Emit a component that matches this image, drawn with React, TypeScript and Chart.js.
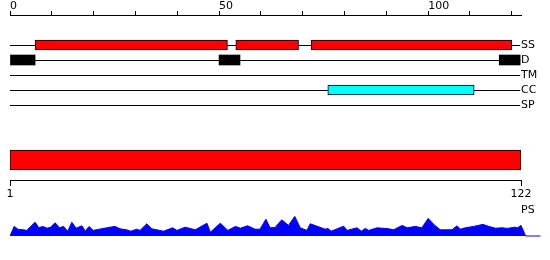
import React, { useEffect, useRef } from 'react';
import { Chart, registerables } from 'chart.js';

Chart.register(...registerables);

// ---------- data ----------
const proteinLength = 122;
const trackNames = ['SS', 'D', 'TM', 'CC', 'SP'];
const ssSegments: [number, number][] = [[6, 52], [54, 69], [72, 120]];
const disorderSegments: [number, number][] = [[0, 6], [50, 55], [117, 122]];
const tmSegments: [number, number][] = [];
const ccSegments: [number, number][] = [[76, 111]];
const spSegments: [number, number][] = [];
const psRange: [number, number] = [1, 122];
const profileLabel = 'PS';

const topTickValues = [0, 10, 20, 30, 40, 50, 60, 70, 80, 90, 100, 110, 120];
const topTickLabels = ['0', '', '', '', '', '50', '', '', '', '', '100', '', ''];
const bottomTickValues = [1, 122];
const bottomTickLabels = ['1', '122'];

const profilePos = [
  0, 1.0, 2.0, 3.2, 4.0, 6.0, 6.9, 7.8, 8.9, 9.7, 10.8, 11.8, 12.8, 13.8, 14.8, 15.8, 17.2, 18.0, 18.9, 19.9,
  23.1, 25.1, 26.3, 27.9, 28.9, 30.3, 31.1, 32.7, 33.9, 36.7, 38.9, 39.9, 41.9, 44.3, 47.1, 47.9, 50.3, 52.1,
  53.9, 55.1, 56.8, 58.6, 59.8, 61.2, 62.2, 63.4, 65.0, 66.6, 68.1, 69.4, 71.0, 71.8, 75.4, 76.0, 76.8, 79.8,
  80.6, 83.0, 84.0, 85.0, 85.8, 87.8, 90.6, 91.7, 93.8, 95.0, 96.9, 98.5, 100.0, 101.6, 102.9, 105.7, 106.9,
  107.7, 108.9, 110.9, 113.1, 114.5, 116.1, 117.7, 118.9, 120.7, 121.4, 122.2, 123.3, 126.9,
];
const profileVal = [
  0, 48, 33, 31, 28, 69, 41, 48, 39, 44, 66, 41, 48, 24, 69, 39, 51, 24, 48, 28,
  41, 48, 36, 31, 24, 34, 28, 61, 36, 24, 41, 28, 44, 31, 64, 19, 64, 28,
  48, 39, 51, 34, 34, 84, 41, 43, 81, 53, 98, 41, 28, 61, 34, 38, 24, 49,
  28, 41, 24, 38, 28, 41, 36, 31, 53, 41, 48, 41, 88, 53, 31, 31, 51,
  34, 41, 48, 58, 48, 39, 41, 38, 44, 41, 53, 0, 0,
];

// ---------- layout (page pixels on the y scale) ----------
const TRACK_Y0 = 45;
const TRACK_GAP = 15;
const PS_BAR_Y = 160;
const BOTTOM_AXIS_Y = 180;
const PS_LABEL_Y = 210;
const FONT = 'DejaVu Sans';
const X_MAX = 122.2; // axis extent on the main chart
const PROFILE_X_MAX = 126.9; // extent of the profile strip
const PROFILE_TOP = 200;
const PROFILE_H = 50;

const trackY = (i: number) => TRACK_Y0 + i * TRACK_GAP;

function segBars(segs: [number, number][], row: number, color: string, border: number) {
  return {
    type: 'bar' as const,
    indexAxis: 'y' as const,
    grouped: false,
    xAxisID: 'x',
    yAxisID: 'y',
    data: segs.map((s) => ({ x: s, y: trackY(row) })),
    backgroundColor: color,
    borderColor: '#000',
    borderWidth: border,
    borderSkipped: false,
    barThickness: 10,
    order: 1,
  };
}

const zeroPad = (s: any) => {
  s.paddingLeft = 0;
  s.paddingRight = 0;
  s.paddingTop = 0;
  s.paddingBottom = 0;
};

export default function App() {
  const ref = useRef<HTMLCanvasElement>(null);
  const ref2 = useRef<HTMLCanvasElement>(null);

  useEffect(() => {
    if (!ref.current || !ref2.current) return;
    const baselines = trackNames.map((_, i) => ({
      type: 'line' as const,
      xAxisID: 'x',
      yAxisID: 'y',
      data: [
        { x: 0, y: trackY(i) + 0.5 },
        { x: proteinLength, y: trackY(i) + 0.5 },
      ],
      borderColor: '#000',
      borderWidth: 1,
      pointRadius: 0,
      fill: false,
      order: 5,
    }));

    const rightTicks = [...trackNames.map((_, i) => trackY(i)), PS_LABEL_Y];
    const rightLabels = [...trackNames, profileLabel];

    const datasets: any[] = [
      segBars(ssSegments, 0, '#ff0000', 1),
      segBars(disorderSegments, 1, '#000000', 0),
      segBars(tmSegments, 2, '#000000', 0),
      segBars(ccSegments, 3, '#00ffff', 1),
      segBars(spSegments, 4, '#ffff00', 1),
      {
        type: 'bar',
        indexAxis: 'y',
        grouped: false,
        xAxisID: 'x2',
        yAxisID: 'y',
        data: [{ x: psRange, y: PS_BAR_Y }],
        backgroundColor: '#ff0000',
        borderColor: '#000',
        borderWidth: 1,
        borderSkipped: false,
        barThickness: 20,
        order: 1,
      },
      ...baselines,
    ];

    const chart = new Chart(ref.current, {
      type: 'bar',
      data: { datasets },
      options: {
        animation: false,
        responsive: false,
        events: [],
        layout: { padding: { left: 10, top: 0, right: 0, bottom: 0 }, autoPadding: false },
        plugins: { legend: { display: false }, tooltip: { enabled: false } },
        scales: {
          x: {
            type: 'linear',
            position: 'top',
            min: 0,
            max: X_MAX,
            offset: false,
            afterBuildTicks: (s: any) => {
              s.ticks = topTickValues.map((v) => ({ value: v }));
            },
            afterFit: (s: any) => {
              s.height = 15;
              zeroPad(s);
            },
            ticks: {
              callback: (_v: any, i: number) => topTickLabels[i],
              align: 'start',
              padding: -2,
              autoSkip: false,
              maxRotation: 0,
              color: '#000',
              font: { family: FONT, size: 11 },
            },
            grid: { drawOnChartArea: false, tickLength: 4, color: '#000', offset: false },
            border: { display: true, color: '#000', width: 1 },
          },
          x2: {
            type: 'linear',
            position: { y: BOTTOM_AXIS_Y },
            min: 1,
            max: 122,
            offset: false,
            afterBuildTicks: (s: any) => {
              s.ticks = bottomTickValues.map((v) => ({ value: v }));
            },
            afterFit: (s: any) => zeroPad(s),
            ticks: {
              callback: (_v: any, i: number) => bottomTickLabels[i],
              padding: 2.5,
              autoSkip: false,
              maxRotation: 0,
              color: '#000',
              font: { family: FONT, size: 11 },
            },
            grid: { drawOnChartArea: false, tickLength: 5, color: '#000', offset: false },
            border: { display: true, color: '#000', width: 1 },
          } as any,
          y: {
            type: 'linear',
            display: false,
            min: 15,
            max: 260,
            reverse: true,
            offset: false,
          },
          yr: {
            type: 'linear',
            position: 'right',
            min: 15,
            max: 260,
            reverse: true,
            offset: false,
            afterBuildTicks: (s: any) => {
              s.ticks = rightTicks.map((v) => ({ value: v }));
            },
            afterFit: (s: any) => {
              s.width = 29;
              zeroPad(s);
            },
            ticks: {
              callback: (_v: any, i: number) => rightLabels[i],
              padding: 0,
              autoSkip: false,
              color: '#000',
              font: { family: FONT, size: 11 },
            },
            grid: { display: false, drawTicks: false, tickLength: 0 },
            border: { display: false },
          },
        },
      } as any,
    });

    // profile strip: same px-per-residue as the main chart, but wider
    const pxPerUnit = (550 - 29 - 10) / X_MAX;
    const rightPad = 550 - 10 - PROFILE_X_MAX * pxPerUnit;
    const chart2 = new Chart(ref2.current, {
      type: 'line',
      data: {
        datasets: [
          {
            data: profilePos.map((p, i) => ({ x: p, y: profileVal[i] })),
            backgroundColor: '#0000ff',
            borderColor: '#0000ff',
            borderWidth: 1,
            pointRadius: 0,
            tension: 0,
            fill: 'origin',
          },
        ],
      },
      options: {
        animation: false,
        responsive: false,
        events: [],
        layout: { padding: { left: 10, top: 0, right: rightPad, bottom: 0 }, autoPadding: false },
        plugins: { legend: { display: false }, tooltip: { enabled: false } },
        scales: {
          x: { type: 'linear', display: false, min: 0, max: PROFILE_X_MAX, offset: false },
          y: { type: 'linear', display: false, min: -70, max: 180, offset: false },
        },
      } as any,
    });

    return () => {
      chart.destroy();
      chart2.destroy();
    };
  }, []);

  return (
    <div style={{ position: 'absolute', left: 0, top: 0, width: 550, height: 260, background: '#fff' }}>
      <canvas ref={ref} width={550} height={260} style={{ display: 'block', position: 'absolute', left: 0, top: 0 }} />
      <canvas
        ref={ref2}
        width={550}
        height={PROFILE_H}
        style={{ display: 'block', position: 'absolute', left: 0, top: PROFILE_TOP }}
      />
    </div>
  );
}
